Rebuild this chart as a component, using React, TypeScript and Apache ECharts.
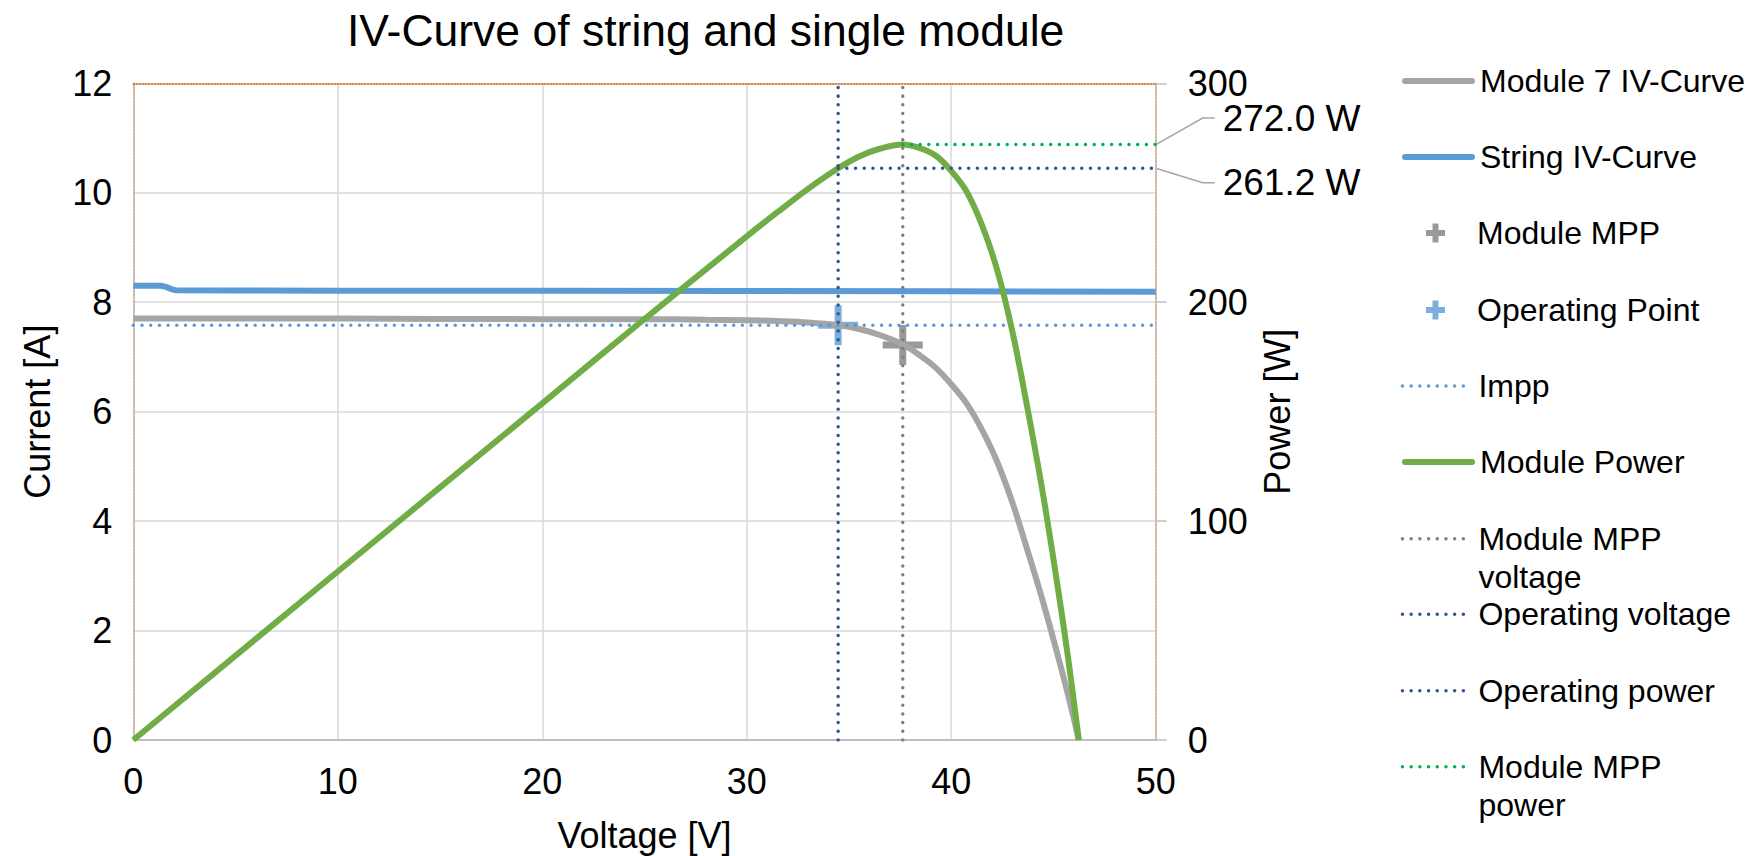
import React, { useEffect, useRef } from 'react';
import * as echarts from 'echarts';

// ---------- data ----------
const moduleVoltage = [0, 10, 20, 25, 28, 30, 31.5, 33, 34.47, 35.5, 36.5, 37.63, 38.5, 39.25, 40.0, 40.75, 41.5, 42.25, 43.0, 43.75, 44.5, 45.25, 45.75, 46.24];
const moduleCurrent = [7.70, 7.70, 7.69, 7.69, 7.68, 7.67, 7.655, 7.63, 7.58, 7.51, 7.40, 7.23, 7.02, 6.80, 6.50, 6.15, 5.67, 5.08, 4.33, 3.44, 2.51, 1.49, 0.77, 0];
const modulePower = [0, 77.0, 153.8, 192.3, 215.0, 230.1, 241.1, 251.8, 261.2, 266.6, 270.1, 272.0, 270.3, 266.9, 260.0, 250.6, 235.3, 214.6, 186.2, 150.5, 111.7, 67.4, 35.2, 0];
const stringVoltage = [0, 1.35, 1.6, 1.85, 2.05, 5, 10, 20, 30, 40, 50];
const stringCurrent = [8.30, 8.30, 8.28, 8.24, 8.22, 8.215, 8.21, 8.21, 8.205, 8.20, 8.19];

const mppVoltage = 37.63;
const mppCurrent = 7.22;
const mppPower = 272.0;
const opVoltage = 34.47;
const opCurrent = 7.58;
const opPower = 261.2;

const voltageRange = [0, 50];
const currentRange = [0, 12];
const powerRange = [0, 300];

const legendNames = [
  'Module 7 IV-Curve',
  'String IV-Curve',
  'Module MPP',
  'Operating Point',
  'Impp',
  'Module Power',
  'Module MPP voltage',
  'Operating voltage',
  'Operating power',
  'Module MPP power',
];
const legendLabels = [
  'Module 7 IV-Curve',
  'String IV-Curve',
  'Module MPP',
  'Operating Point',
  'Impp',
  'Module Power',
  'Module MPP\nvoltage',
  'Operating voltage',
  'Operating power',
  'Module MPP\npower',
];

// ---------- styles ----------
const FONT = '"Liberation Sans", Arial, Helvetica, sans-serif';
const GRAY = '#a5a5a5';
const BLUE = '#5b9bd5';
const GREEN = '#70ad47';
const DARK_GRAY = '#7f7f7f';
const DARK_BLUE = '#2f5597';
const BRIGHT_GREEN = '#00b050';
const DOT = [0.001, 8.7];
const DOT_W = 3.5;
const SOLID_W = 6;
const CROSS = 'path://M16.5,0H23.5V16.5H40V23.5H23.5V40H16.5V23.5H0V16.5H16.5Z';
const CROSS_SMALL = 'path://M6.5,0H12.5V6.5H19V12.5H12.5V19H6.5V12.5H0V6.5H6.5Z';
const legendKinds = ['solid', 'solid', 'cross', 'cross', 'dot', 'solid', 'dot', 'dot', 'dot', 'dot'];
const legendCenters = [81, 157, 233, 310, 386, 462, 538.7, 614.3, 690.7, 766.7];

const zip = (xs: number[], ys: number[]) => xs.map((x, i) => [x, ys[i]]);

function dottedLine(name: string, color: string, data: number[][], yAxisIndex = 0) {
  return {
    name,
    type: 'line',
    yAxisIndex,
    data,
    symbol: 'none',
    silent: true,
    color,
    lineStyle: { color, width: DOT_W, type: DOT, cap: 'round' },
    emphasis: { disabled: true },
  };
}

function buildLegends() {
  return legendNames.map((name, i) => {
    const kind = legendKinds[i];
    const twoLine = legendLabels[i].indexOf('\n') >= 0;
    const lh = 38;
    let left = 1402;
    let itemWidth = 67;
    let itemHeight = 2;
    let padLeft = 3;
    const item: any = { name };
    const lineStyle: any = {};
    if (kind === 'solid') {
      left = 1402; itemWidth = 67; padLeft = 3;
      lineStyle.width = SOLID_W; lineStyle.cap = 'round'; lineStyle.type = 'solid';
    } else if (kind === 'dot') {
      left = 1400.7; itemWidth = 62; padLeft = 9;
      lineStyle.width = DOT_W; lineStyle.cap = 'round'; lineStyle.type = DOT;
    } else {
      left = 1426; itemWidth = 19; itemHeight = 19; padLeft = 27;
      item.icon = CROSS_SMALL;
    }
    // two-line labels: a leading empty line keeps the first line level with the key
    const text = twoLine ? '\n' + legendLabels[i] : legendLabels[i];
    return {
      show: true,
      orient: 'vertical',
      selectedMode: false,
      padding: 0,
      itemGap: 0,
      left,
      top: legendCenters[i] - (twoLine ? lh * 1.5 : lh / 2),
      itemWidth,
      itemHeight,
      data: [item],
      formatter: () => text,
      itemStyle: kind === 'cross' ? {} : { opacity: 0 },
      lineStyle,
      textStyle: {
        fontSize: 32,
        fontFamily: FONT,
        color: '#000',
        lineHeight: lh,
        padding: [0, 0, 0, padLeft],
      },
    };
  });
}

export default function App() {
  const ref = useRef<HTMLDivElement>(null);

  useEffect(() => {
    if (!ref.current) return;
    const chart = echarts.init(ref.current, null, { renderer: 'svg' });
    const axisText = { fontSize: 36, color: '#000', fontFamily: FONT };
    const borderLine = { color: '#cfb8aa', width: 2, type: [2, 1.5] };

    const option: any = {
      animation: false,
      backgroundColor: '#ffffff',
      textStyle: { fontFamily: FONT },
      title: {
        text: 'IV-Curve of string and single module',
        left: 347,
        top: 8,
        padding: 0,
        textStyle: { fontSize: 44.5, fontWeight: 'normal', color: '#000', fontFamily: FONT },
      },
      legend: buildLegends(),
      grid: {
        left: 133.3,
        right: 1758 - 1155.7,
        top: 83.3,
        bottom: 856 - 740,
        containLabel: false,
        outerBoundsMode: 'none',
      },
      xAxis: [
        {
          type: 'value',
          position: 'bottom',
          min: voltageRange[0],
          max: voltageRange[1],
          interval: 10,
          name: 'Voltage [V]',
          nameLocation: 'middle',
          nameGap: 77,
          nameTextStyle: axisText,
          axisLine: { show: true, onZero: false, lineStyle: { color: '#bfbfbf', width: 2 } },
          axisTick: { show: false },
          axisLabel: { ...axisText, margin: 23, showMinLabel: true, showMaxLabel: true },
          splitLine: { show: true, showMinLine: false, showMaxLine: false, lineStyle: { color: '#d9d9d9', width: 1.5 } },
        },
        {
          type: 'value',
          position: 'top',
          min: voltageRange[0],
          max: voltageRange[1],
          interval: 10,
          axisLine: { show: true, onZero: false, lineStyle: { color: '#c5631f', width: 1.5, type: [1.5, 1.5] } },
          axisTick: { show: false },
          axisLabel: { show: false },
          splitLine: { show: false },
        },
      ],
      yAxis: [
        {
          type: 'value',
          position: 'left',
          min: currentRange[0],
          max: currentRange[1],
          interval: 2,
          name: 'Current [A]',
          nameLocation: 'middle',
          nameGap: 78,
          nameTextStyle: axisText,
          axisLine: { show: true, onZero: false, lineStyle: borderLine },
          axisTick: { show: false },
          axisLabel: { ...axisText, margin: 21, showMinLabel: true, showMaxLabel: true },
          splitLine: { show: true, showMinLine: false, showMaxLine: false, lineStyle: { color: '#d9d9d9', width: 1.5 } },
        },
        {
          type: 'value',
          position: 'right',
          min: powerRange[0],
          max: powerRange[1],
          interval: 100,
          name: 'Power [W]',
          nameLocation: 'middle',
          nameGap: 104,
          nameTextStyle: axisText,
          axisLine: { show: true, onZero: false, lineStyle: borderLine },
          axisTick: { show: true, inside: false, length: 11, lineStyle: { color: '#bfbfbf', width: 1.5 } },
          axisLabel: { ...axisText, margin: 32, showMinLabel: true, showMaxLabel: true },
          splitLine: { show: false },
        },
      ],
      series: [
        {
          name: legendNames[0],
          type: 'line',
          data: zip(moduleVoltage, moduleCurrent),
          symbol: 'none',
          smooth: 0.35,
          silent: true,
          color: GRAY,
          lineStyle: { color: GRAY, width: SOLID_W },
          emphasis: { disabled: true },
        },
        {
          name: legendNames[1],
          type: 'line',
          data: zip(stringVoltage, stringCurrent),
          symbol: 'none',
          silent: true,
          color: BLUE,
          lineStyle: { color: BLUE, width: SOLID_W },
          emphasis: { disabled: true },
        },
        {
          name: legendNames[2],
          type: 'scatter',
          data: [[mppVoltage, mppCurrent]],
          symbol: CROSS,
          symbolSize: 40,
          silent: true,
          color: DARK_GRAY,
          itemStyle: { color: DARK_GRAY },
          emphasis: { disabled: true },
        },
        {
          name: legendNames[3],
          type: 'scatter',
          data: [[opVoltage, opCurrent]],
          symbol: CROSS,
          symbolSize: 40,
          silent: true,
          color: BLUE,
          itemStyle: { color: BLUE },
          emphasis: { disabled: true },
        },
        dottedLine(legendNames[4], BLUE, [[voltageRange[0], opCurrent], [voltageRange[1], opCurrent]]),
        {
          name: legendNames[5],
          type: 'line',
          yAxisIndex: 1,
          data: zip(moduleVoltage, modulePower),
          symbol: 'none',
          smooth: 0.35,
          silent: true,
          color: GREEN,
          lineStyle: { color: GREEN, width: SOLID_W },
          emphasis: { disabled: true },
        },
        dottedLine(legendNames[6], DARK_GRAY, [[mppVoltage, currentRange[0]], [mppVoltage, currentRange[1]]]),
        dottedLine(legendNames[7], DARK_BLUE, [[opVoltage, currentRange[0]], [opVoltage, currentRange[1]]]),
        dottedLine(legendNames[8], DARK_BLUE, [[opVoltage, opPower], [voltageRange[1], opPower]], 1),
        dottedLine(legendNames[9], BRIGHT_GREEN, [[mppVoltage, mppPower], [voltageRange[1], mppPower]], 1),
      ],
    };

    chart.setOption(option);

    const pMpp = chart.convertToPixel({ seriesIndex: 9 }, [voltageRange[1], mppPower]) as number[];
    const pOp = chart.convertToPixel({ seriesIndex: 8 }, [voltageRange[1], opPower]) as number[];
    const leader = (p: number[], dy: number) => ({
      type: 'polyline',
      silent: true,
      shape: { points: [[p[0], p[1]], [p[0] + 47, p[1] + dy], [p[0] + 59, p[1] + dy]] },
      style: { stroke: '#a6a6a6', lineWidth: 1.5, fill: 'none' },
    });
    const label = (p: number[], dy: number, text: string) => ({
      type: 'text',
      silent: true,
      x: p[0] + 67,
      y: p[1] + dy,
      style: { text, fontSize: 37, fontFamily: FONT, fill: '#000', verticalAlign: 'middle', align: 'left' },
    });
    chart.setOption({
      graphic: [
        leader(pMpp, -26.5),
        label(pMpp, -26.5, `${mppPower.toFixed(1)} W`),
        leader(pOp, 14.5),
        label(pOp, 14.5, `${opPower.toFixed(1)} W`),
      ],
    });

    return () => chart.dispose();
  }, []);

  return <div ref={ref} style={{ position: 'absolute', left: 0, top: 0, width: 1758, height: 856 }} />;
}
